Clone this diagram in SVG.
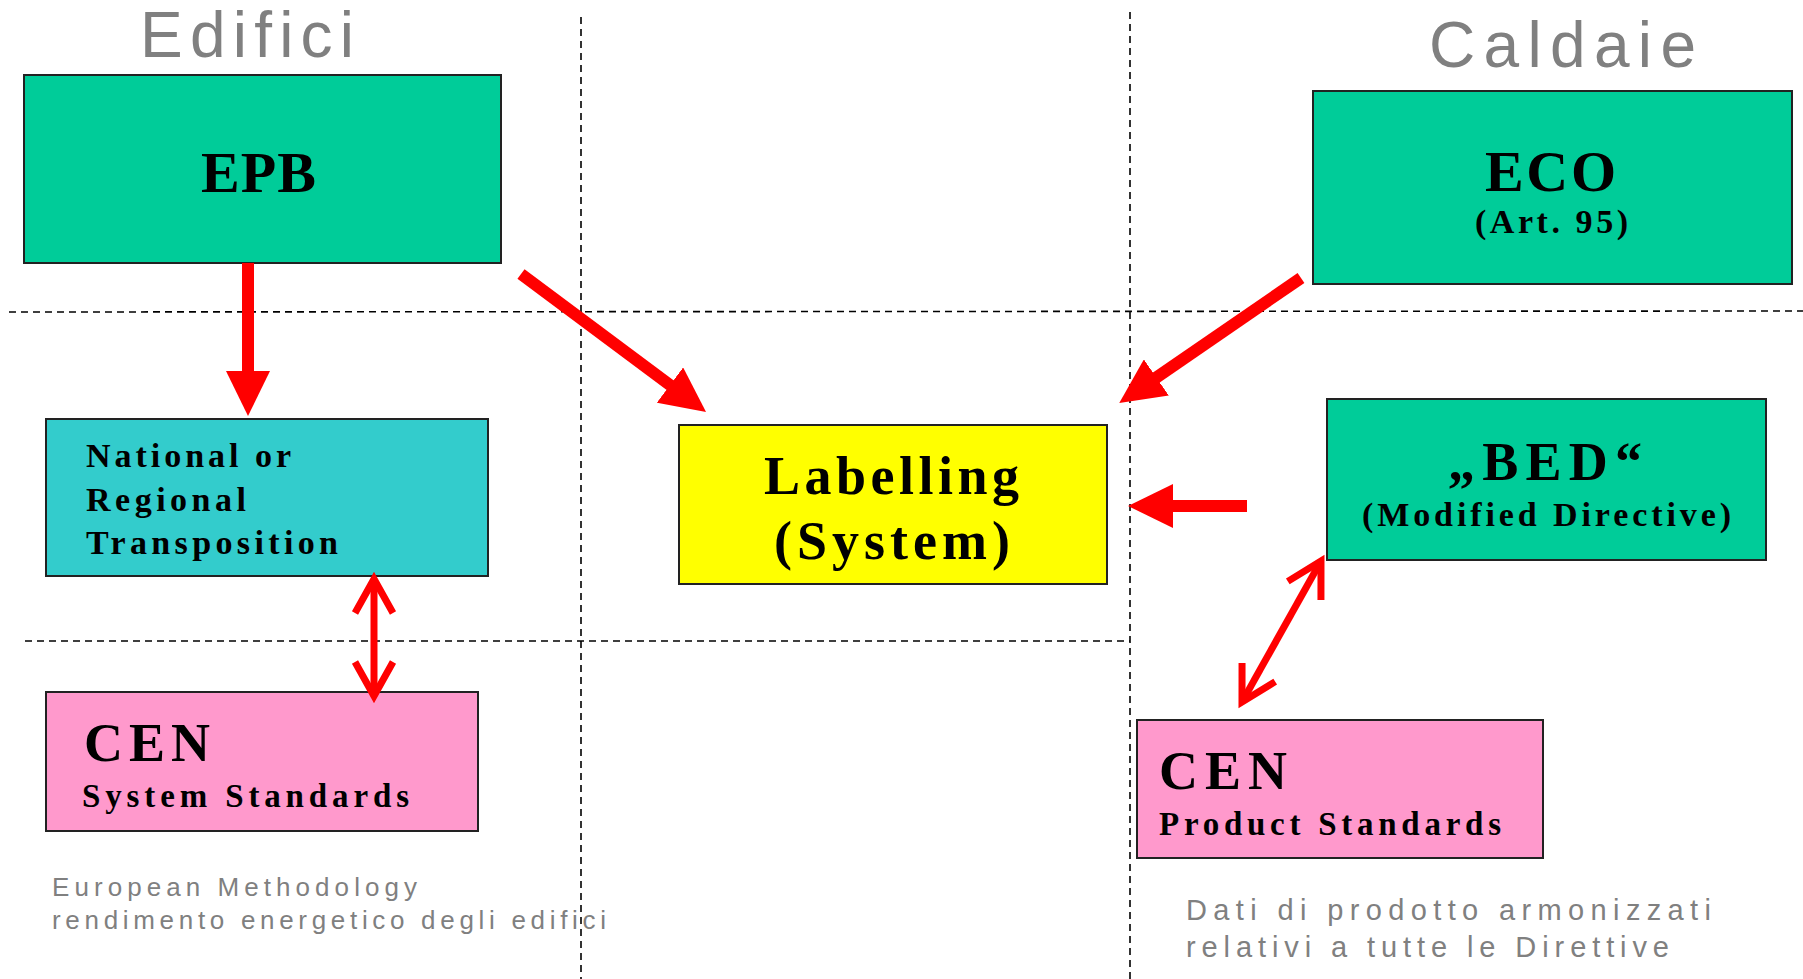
<svg xmlns="http://www.w3.org/2000/svg" width="1803" height="979" viewBox="0 0 1803 979">
<style>
.box{stroke:#222;stroke-width:2}
.green{fill:#00CC99}
.teal{fill:#33CCCC}
.yellow{fill:#FFFF00}
.pink{fill:#FF99CC}
.t{font-family:"Liberation Serif","Times New Roman",serif;font-weight:bold;fill:#000}
.g{font-family:"Liberation Sans",Arial,sans-serif;fill:#808080}
.dash{stroke:#000;stroke-width:1.6;stroke-dasharray:7,5;fill:none}
.arr{stroke:#FF0000;stroke-width:12;fill:none;marker-end:url(#head)}
.dbl{stroke:#FF0000;stroke-width:7;fill:none;marker-start:url(#chev);marker-end:url(#chev)}
</style>
<defs>
<marker id="head" markerUnits="userSpaceOnUse" viewBox="0 0 45 44" markerWidth="45" markerHeight="44" refX="15" refY="22" orient="auto">
<path d="M0,0 L45,22 L0,44 z" fill="#FF0000"/>
</marker>
<marker id="chev" markerUnits="userSpaceOnUse" viewBox="-45 -30 55 60" markerWidth="55" markerHeight="60" refX="0" refY="0" orient="auto-start-reverse">
<path d="M-34,-19 L0,0 L-34,19" fill="none" stroke="#FF0000" stroke-width="7"/>
</marker>
</defs>
<rect width="1803" height="979" fill="#fff"/>

<g id="grid">
<line class="dash" x1="581" y1="17" x2="581" y2="979"/>
<line class="dash" x1="1130" y1="12" x2="1130" y2="979"/>
<line class="dash" x1="9" y1="312" x2="1803" y2="311"/>
<line class="dash" x1="25" y1="641" x2="1130" y2="641"/>
</g>

<g id="headings">
<text class="g" x="140" y="57" font-size="64" textLength="214" lengthAdjust="spacing">Edifici</text>
<text class="g" x="1429" y="67" font-size="64" textLength="267" lengthAdjust="spacing">Caldaie</text>
</g>

<g id="EPB">
<rect class="box green" x="24" y="75" width="477" height="188"/>
<text class="t" x="201" y="192" font-size="58" textLength="115" lengthAdjust="spacing">EPB</text>
</g>

<g id="ECO">
<rect class="box green" x="1313" y="91" width="479" height="193"/>
<text class="t" x="1485" y="191" font-size="58" textLength="131" lengthAdjust="spacing">ECO</text>
<text class="t" x="1475" y="233" font-size="34" textLength="153" lengthAdjust="spacing">(Art. 95)</text>
</g>

<g id="National">
<rect class="box teal" x="46" y="419" width="442" height="157"/>
<text class="t" x="86" y="467" font-size="34" textLength="205" lengthAdjust="spacing">National or</text>
<text class="t" x="86" y="511" font-size="34" textLength="160" lengthAdjust="spacing">Regional</text>
<text class="t" x="86" y="554" font-size="34" textLength="252" lengthAdjust="spacing">Transposition</text>
</g>

<g id="Labelling">
<rect class="box yellow" x="679" y="425" width="428" height="159"/>
<text class="t" x="764" y="494" font-size="54" textLength="255" lengthAdjust="spacing">Labelling</text>
<text class="t" x="774" y="559" font-size="54" textLength="236" lengthAdjust="spacing">(System)</text>
</g>

<g id="BED">
<rect class="box green" x="1327" y="399" width="439" height="161"/>
<text class="t" x="1448" y="480" font-size="54" textLength="194" lengthAdjust="spacing">„BED“</text>
<text class="t" x="1362" y="526" font-size="34" textLength="369" lengthAdjust="spacing">(Modified Directive)</text>
</g>

<g id="CEN-System">
<rect class="box pink" x="46" y="692" width="432" height="139"/>
<text class="t" x="84" y="761" font-size="54" textLength="126" lengthAdjust="spacing">CEN</text>
<text class="t" x="82" y="807" font-size="33" textLength="327" lengthAdjust="spacing">System Standards</text>
</g>

<g id="CEN-Product">
<rect class="box pink" x="1137" y="720" width="406" height="138"/>
<text class="t" x="1159" y="789" font-size="54" textLength="128" lengthAdjust="spacing">CEN</text>
<text class="t" x="1159" y="835" font-size="33" textLength="342" lengthAdjust="spacing">Product Standards</text>
</g>

<g id="notes">
<text class="g" x="52" y="896" font-size="26" textLength="365" lengthAdjust="spacing">European Methodology</text>
<text class="g" x="52" y="929" font-size="26" textLength="554" lengthAdjust="spacing">rendimento energetico degli edifici</text>
<text class="g" x="1186" y="920" font-size="29" textLength="525" lengthAdjust="spacing">Dati di prodotto armonizzati</text>
<text class="g" x="1186" y="957" font-size="29" textLength="483" lengthAdjust="spacing">relativi a tutte le Direttive</text>
</g>

<g id="connectors">
<line class="arr" x1="248" y1="263" x2="248" y2="386"/>
<line class="arr" x1="521" y1="274" x2="682" y2="394"/>
<line class="arr" x1="1301" y1="278" x2="1144" y2="386"/>
<line class="arr" x1="1247" y1="506" x2="1158" y2="506"/>
<line class="dbl" x1="374" y1="579" x2="374" y2="696"/>
<line class="dbl" x1="1321" y1="561" x2="1242" y2="702"/>
</g>
</svg>
